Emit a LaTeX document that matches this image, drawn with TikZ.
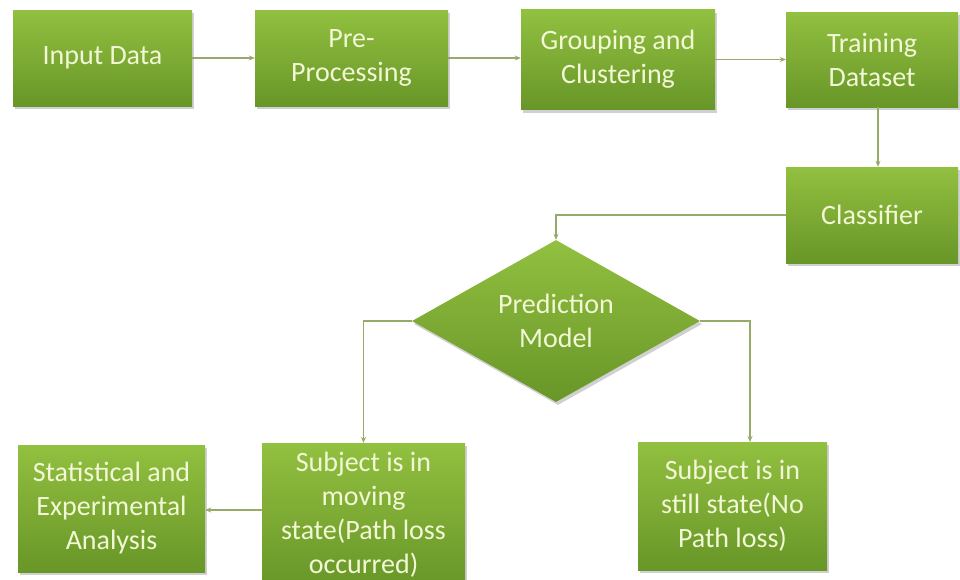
\documentclass[tikz,border=0pt]{standalone}
\usepackage{fontspec}
\setmainfont{Carlito}
\usetikzlibrary{shapes.geometric,arrows.meta,shadows}
\definecolor{gtop}{RGB}{146,192,64}
\definecolor{gbot}{RGB}{104,150,40}
\definecolor{gtext}{RGB}{242,247,214}
\definecolor{lnk}{RGB}{150,170,105}
\tikzset{
  boxbase/.style={draw=none, top color=gtop, bottom color=gbot, text=gtext,
    font=\fontsize{28}{34}\selectfont, align=center, inner sep=0pt,
    drop shadow={shadow xshift=2pt, shadow yshift=-3pt, opacity=0.3, fill=black!60}},
  blk/.style={boxbase, rectangle},
  dmd/.style={boxbase, diamond, aspect=1.78},
  lnkarrow/.style={draw=lnk, line width=1.1pt, -{Stealth[length=6pt,width=5pt]}}
}
\begin{document}
\begin{tikzpicture}[x=1pt,y=-1pt]
\useasboundingbox[fill=white] (0,0) rectangle (960,579);
\node[blk, minimum width=179pt, minimum height=96pt] (in) at (102.5,58) {Input Data};
\node[blk, minimum width=193pt, minimum height=96pt] (pre) at (351.5,58) {Pre-\\Processing};
\node[blk, minimum width=194pt, minimum height=100pt] (grp) at (618,59.5) {Grouping and\\Clustering};
\node[blk, minimum width=172pt, minimum height=95pt] (trn) at (872,59.5) {Training\\Dataset};
\node[blk, minimum width=172pt, minimum height=96pt] (cls) at (872,215) {Classifier};
\node[dmd, minimum width=288pt, minimum height=162pt] (pm) at (556,321) {Prediction\\Model};
\node[blk, minimum width=203pt, minimum height=144pt] (mov) at (363.5,515) {Subject is in\\moving\\state(Path loss\\occurred)};
\node[blk, minimum width=187pt, minimum height=127pt] (stat) at (111.5,508.5) {Statistical and\\Experimental\\Analysis};
\node[blk, minimum width=189pt, minimum height=128pt] (stl) at (732.5,506) {Subject is in\\still state(No\\Path loss)};
\coordinate (stlin) at (750,442);
\draw[lnkarrow] (in.east) -- (pre.west);
\draw[lnkarrow] (pre.east) -- (pre.east -| grp.west);
\draw[lnkarrow] (grp.east) -- (grp.east -| trn.west);
\draw[lnkarrow] ([xshift=6pt]trn.south) -- ([xshift=6pt]cls.north);
\draw[lnkarrow] (cls.west) -| (pm.north);
\draw[lnkarrow] (pm.west) -| (mov.north);
\draw[lnkarrow] (pm.east) -| (stlin);
\draw[lnkarrow] (mov.west |- 0,510) -- (stat.east |- 0,510);
\end{tikzpicture}
\end{document}
